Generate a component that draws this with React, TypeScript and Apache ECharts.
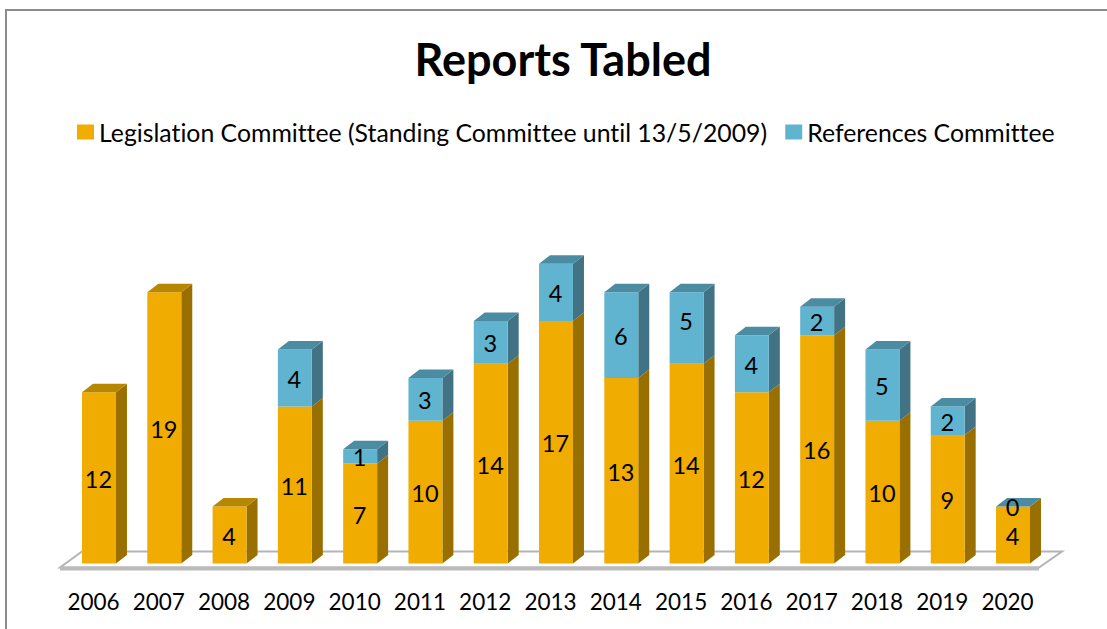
import React, { useEffect, useRef } from "react";
import * as echarts from "echarts";

const years = ["2006","2007","2008","2009","2010","2011","2012","2013","2014","2015","2016","2017","2018","2019","2020"];
const legislation = [12,19,4,11,7,10,14,17,13,14,12,16,10,9,4];
const references: (number | null)[] = [null,null,null,4,1,3,3,4,6,5,4,2,5,2,0];

const FONT = "Lato, Carlito, sans-serif";
const DX = 11;
const DY = 8.5;
const BAR_RATIO = 0.52;

const ORANGE = { front: "#F0AC00", side: "#997000", top: "#B88700" };
const BLUE = { front: "#60B4CF", side: "#417385", top: "#4B8CA3" };

function segment(params: any, api: any, colors: any, drawTop: boolean, labelShift: (i: number) => number) {
  const i = api.value(0);
  const base = api.value(2);
  const val = api.value(1);
  const top = api.coord([i, base + val]);
  const bottom = api.coord([i, base]);
  const w = api.size([1, 0])[0] * BAR_RATIO;
  const x0 = top[0] - w / 2;
  const x1 = top[0] + w / 2;
  const yT = top[1];
  const yB = bottom[1];
  const children: any[] = [
    { type: "polygon", shape: { points: [[x1, yT], [x1 + DX, yT - DY], [x1 + DX, yB - DY], [x1, yB]] }, style: { fill: colors.side } },
    { type: "rect", shape: { x: x0, y: yT, width: w, height: yB - yT }, style: { fill: colors.front } },
  ];
  if (drawTop) {
    children.push({
      type: "polygon",
      shape: { points: [[x0, yT], [x0 + DX, yT - DY], [x1 + DX, yT - DY], [x1, yT]] },
      style: { fill: colors.top },
    });
  }
  children.push({
    type: "text",
    style: {
      x: top[0] - 0.5,
      y: (yT + yB) / 2 + 1 + labelShift(i),
      text: String(val),
      fill: "#000",
      font: `23.5px ${FONT}`,
      align: "center",
      verticalAlign: "middle",
    },
    z2: 10,
  });
  return { type: "group", children };
}

const legislationData = legislation.map((v, i) => [i, v, 0]);
const referencesData = references.flatMap((v, i) => (v === null ? [] : [[i, v, legislation[i]]]));

const option: any = {
  animation: false,
  backgroundColor: "#fff",
  title: {
    text: "Reports Tabled",
    left: 558,
    top: 31,
    textAlign: "center",
    textStyle: { fontFamily: FONT, fontSize: 45, fontWeight: "bold", color: "#000" },
  },
  legend: {
    left: 72,
    top: 114.5,
    itemWidth: 17,
    itemHeight: 15,
    itemGap: 19,
    icon: "rect",
    data: [
      { name: "Legislation Committee (Standing Committee until 13/5/2009)", itemStyle: { color: ORANGE.front } },
      { name: "References Committee", itemStyle: { color: BLUE.front } },
    ],
    textStyle: { fontFamily: FONT, fontSize: 24.8, color: "#000", padding: [0, 0, 0, 0] },
  },
  grid: { left: 66.35, width: 979.3, top: 206.75, height: 356.75 },
  xAxis: {
    type: "category",
    data: years,
    axisLine: { show: false },
    axisTick: { show: false },
    axisLabel: { fontFamily: FONT, fontSize: 22.5, color: "#000", margin: 26, interval: 0, padding: [0, 11, 0, 0] },
  },
  yAxis: { type: "value", min: 0, max: 25, show: false, splitLine: { show: false } },
  series: [
    {
      type: "custom",
      name: "floor",
      silent: true,
      z: 1,
      data: [[0]],
      renderItem: (params: any, api: any) => {
        const c = api.coord([0, 0]);
        const band = api.size([1, 0])[0];
        const yFront = c[1] + 4;
        const xL = c[0] - 39;
        const xR = c[0] + 14 * band + 26;
        return {
          type: "group",
          children: [
            {
              type: "polygon",
              shape: { points: [[xL, yFront], [xL + 22, yFront - 16], [xR + 23, yFront - 16], [xR, yFront]] },
              style: { fill: "#fff", stroke: "#B4B4B4", lineWidth: 2 },
            },
            { type: "rect", shape: { x: xL, y: yFront - 1, width: xR - xL, height: 4 }, style: { fill: "#BBBBBB" } },
          ],
        };
      },
    },
    {
      type: "custom",
      name: "Legislation Committee (Standing Committee until 13/5/2009)",
      z: 2,
      itemStyle: { color: ORANGE.front },
      encode: { x: 0, y: 1 },
      data: legislationData,
      renderItem: (params: any, api: any) => segment(params, api, ORANGE, references[api.value(0)] === null, () => 0),
    },
    {
      type: "custom",
      name: "References Committee",
      z: 3,
      itemStyle: { color: BLUE.front },
      encode: { x: 0, y: 1 },
      data: referencesData,
      renderItem: (params: any, api: any) => segment(params, api, BLUE, true, (i) => (years[i] === "2015" ? -8 : 0)),
    },
  ],
  graphic: [
    {
      type: "polyline",
      shape: { points: [[6, 640], [6, 10], [1120, 10]] },
      style: { fill: "none", stroke: "#8C8C8C", lineWidth: 2 },
      silent: true,
    },
  ],
};

export default function App() {
  const ref = useRef<HTMLDivElement>(null);
  useEffect(() => {
    document.body.style.margin = "0";
    const chart = echarts.init(ref.current!, undefined, { renderer: "svg" });
    chart.setOption(option);
    return () => chart.dispose();
  }, []);
  return <div ref={ref} style={{ width: 1107, height: 629, fontVariantLigatures: "none" }} />;
}
